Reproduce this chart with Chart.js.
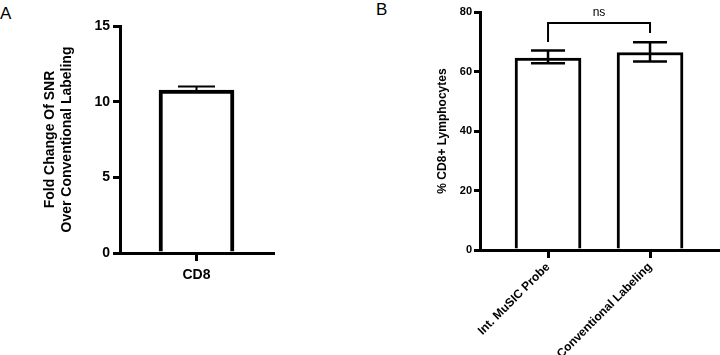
<!DOCTYPE html>
<html lang="en">
<head>
  <meta charset="UTF-8" />
  <title>CD8 SNR and % CD8+ lymphocytes</title>
  <script src="https://cdn.jsdelivr.net/npm/chart.js"></script>
  <style>
    body {
      margin: 0;
      background: #ffffff;
      width: 720px;
      height: 355px;
      position: relative;
      overflow: hidden;
      font-family: "Liberation Sans", Arial, sans-serif;
    }
    .panel-letter {
      position: absolute;
      font-size: 17px;
      color: #000;
      line-height: 1;
    }
    #chartA { position: absolute; left: 0; top: 0; }
    #chartB { position: absolute; left: 380px; top: 0; }
  </style>
</head>
<body>
  <div class="panel-letter" style="left:0px; top:5px;">A</div>
  <div class="panel-letter" style="left:376px; top:1px;">B</div>
  <canvas id="chartA" width="290" height="355"></canvas>
  <canvas id="chartB" width="340" height="355"></canvas>

  <script>
    // panel A data
    const cd8Labels = ["CD8"];
    const cd8Mean = [10.77];
    const cd8ErrHigh = [11.0];
    const cd8ErrLow = [null];   // lower whisker hidden inside the bar
    const snrTicks = [0, 5, 10, 15];

    // panel B data
    const methodLabels = ["Int. MuSIC Probe", "Conventional Labeling"];
    const pctMean = [64.5, 66.4];
    const pctErrLow = [62.8, 63.4];
    const pctErrHigh = [67.1, 69.8];
    const pctTicks = [0, 20, 40, 60, 80];
    const sigText = "ns";
    const sigBar = 76.3;
    const sigLegEnds = [69.9, 72.9];

    Chart.defaults.font.family = "'Liberation Sans', Arial, sans-serif";
    Chart.defaults.color = "#000";

    const errorBars = {
      id: "errorBars",
      afterDatasetsDraw(chart, args, opts) {
        const ctx = chart.ctx;
        const y = chart.scales.y;
        const meta = chart.getDatasetMeta(0);
        ctx.save();
        ctx.strokeStyle = "#000";
        ctx.lineWidth = opts.lineWidth;
        meta.data.forEach((bar, i) => {
          const hi = y.getPixelForValue(opts.high[i]);
          const lo = opts.low[i] == null ? bar.y : y.getPixelForValue(opts.low[i]);
          ctx.beginPath();
          ctx.moveTo(bar.x, lo);
          ctx.lineTo(bar.x, hi);
          ctx.moveTo(bar.x - opts.cap, hi);
          ctx.lineTo(bar.x + opts.cap, hi);
          if (opts.low[i] != null) {
            ctx.moveTo(bar.x - opts.cap, lo);
            ctx.lineTo(bar.x + opts.cap, lo);
          }
          ctx.stroke();
        });
        ctx.restore();
      }
    };

    const sigBracket = {
      id: "sigBracket",
      afterDatasetsDraw(chart) {
        const ctx = chart.ctx;
        const x = chart.scales.x, y = chart.scales.y;
        const x0 = x.getPixelForValue(0), x1 = x.getPixelForValue(1);
        const yb = y.getPixelForValue(sigBar);
        ctx.save();
        ctx.strokeStyle = "#000";
        ctx.lineWidth = 2;
        ctx.beginPath();
        ctx.moveTo(x0, y.getPixelForValue(sigLegEnds[0]));
        ctx.lineTo(x0, yb);
        ctx.lineTo(x1, yb);
        ctx.lineTo(x1, y.getPixelForValue(sigLegEnds[1]));
        ctx.stroke();
        ctx.fillStyle = "#000";
        ctx.font = "12px 'Liberation Sans', Arial, sans-serif";
        ctx.textAlign = "center";
        ctx.textBaseline = "bottom";
        ctx.fillText(sigText, (x0 + x1) / 2, yb - 4);
        ctx.restore();
      }
    };

    const axisStyle = (width, tickLen) => ({
      offset: false,
      border: { display: true, color: "#000", width: width },
      grid: { display: true, offset: false, drawOnChartArea: false, drawTicks: true, tickLength: tickLen, color: "#000", lineWidth: width }
    });

    new Chart(document.getElementById("chartA"), {
      type: "bar",
      data: {
        datasets: [{
          data: cd8Labels.map((_, i) => ({ x: i, y: cd8Mean[i] })),
          backgroundColor: "#fff",
          borderColor: "#000",
          borderWidth: 4,
          barThickness: 75
        }]
      },
      options: {
        responsive: false,
        animation: false,
        layout: { padding: { top: 26, right: 17, left: 0, bottom: 0 } },
        plugins: {
          legend: { display: false },
          tooltip: { enabled: false },
          errorBars: { high: cd8ErrHigh, low: cd8ErrLow, cap: 18.5, lineWidth: 2 }
        },
        scales: {
          x: {
            type: "linear",
            min: -1,
            max: 1,
            ...axisStyle(3, 8),
            afterBuildTicks: s => { s.ticks = cd8Labels.map((_, i) => ({ value: i })); },
            afterFit: s => { s.height = 102; },
            ticks: {
              autoSkip: false,
              maxRotation: 0,
              padding: 6,
              font: { size: 14, weight: "bold" },
              callback: v => cd8Labels[v]
            }
          },
          y: {
            min: 0,
            max: 15,
            ...axisStyle(3, 7),
            afterBuildTicks: s => { s.ticks = snrTicks.map(v => ({ value: v })); },
            afterFit: s => { s.width = 120; },
            ticks: { padding: 3, font: { size: 14, weight: "bold" } },
            title: {
              display: true,
              text: ["Fold Change Of SNR", "Over Conventional Labeling"],
              font: { size: 14, weight: "bold" },
              padding: { top: 42, bottom: 0 }
            }
          }
        }
      },
      plugins: [errorBars]
    });

    new Chart(document.getElementById("chartB"), {
      type: "bar",
      data: {
        datasets: [{
          data: methodLabels.map((_, i) => ({ x: i, y: pctMean[i] })),
          backgroundColor: "#fff",
          borderColor: "#000",
          borderWidth: 3,
          barThickness: 66
        }]
      },
      options: {
        responsive: false,
        animation: false,
        layout: { padding: { top: 12, right: 0, left: 0, bottom: 0 } },
        plugins: {
          legend: { display: false },
          tooltip: { enabled: false },
          errorBars: { high: pctErrHigh, low: pctErrLow, cap: 17, lineWidth: 2.5 }
        },
        scales: {
          x: {
            type: "linear",
            min: -0.667,
            max: 1.686,
            ...axisStyle(3, 8),
            afterBuildTicks: s => { s.ticks = methodLabels.map((_, i) => ({ value: i })); },
            afterFit: s => { s.height = 105; },
            ticks: {
              autoSkip: false,
              minRotation: 45,
              maxRotation: 45,
              padding: 2,
              font: { size: 12, weight: "bold" },
              callback: v => methodLabels[v]
            }
          },
          y: {
            min: 0,
            max: 80,
            ...axisStyle(3, 6),
            afterBuildTicks: s => { s.ticks = pctTicks.map(v => ({ value: v })); },
            afterFit: s => { s.width = 100; },
            ticks: { padding: 2, font: { size: 11, weight: "bold" } },
            title: {
              display: true,
              text: "% CD8+ Lymphocytes",
              font: { size: 12, weight: "bold" },
              padding: { top: 55, bottom: 0 }
            }
          }
        }
      },
      plugins: [errorBars, sigBracket]
    });
  </script>
</body>
</html>
